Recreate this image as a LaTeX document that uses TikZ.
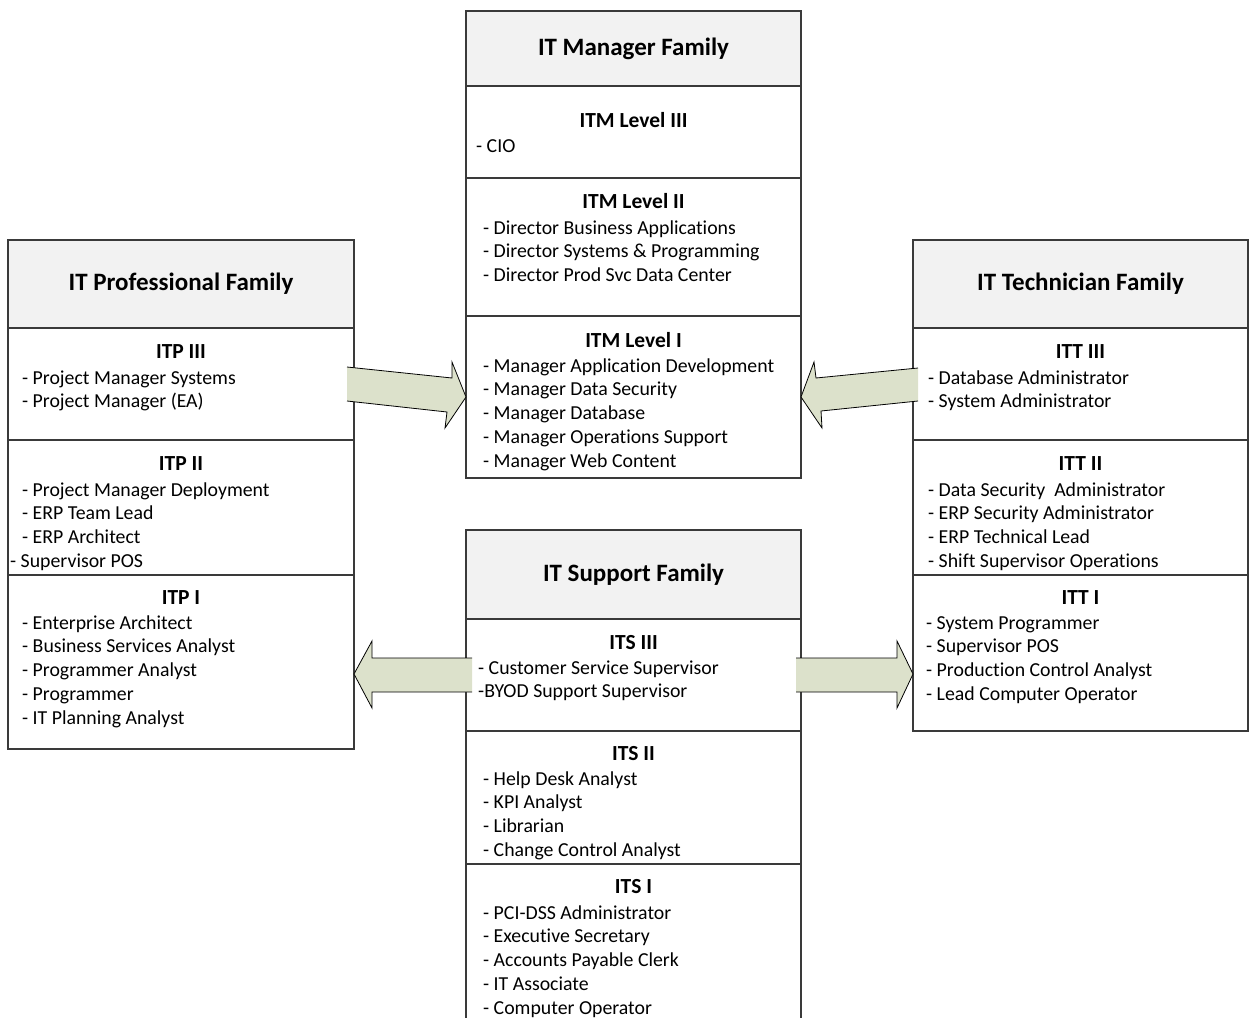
\documentclass[tikz,border=0pt]{standalone}
\usepackage{fontspec}
\setmainfont{Carlito}[Ligatures=NoCommon]
\usetikzlibrary{fit}
\definecolor{hdr}{HTML}{F2F2F2}
\definecolor{arrfill}{HTML}{DCE1CB}
\definecolor{edge}{HTML}{3A3A3A}
\tikzset{
  sec/.style={draw=edge, line width=1.2pt, inner sep=0pt},
  head/.style={sec, fill=hdr},
  fam/.style={font=\fontsize{25}{30}\selectfont\bfseries},
  lvl/.style={font=\fontsize{21.5}{26}\selectfont\bfseries, inner sep=0pt},
  item/.style={font=\fontsize{19.8}{24}\selectfont, inner sep=0pt, anchor=base west},
  blockfill/.style={fill=arrfill, draw=none},
  blockline/.style={draw=black, line width=0.8pt, line join=miter}
}
\newcommand{\itemlist}[4]{% prefix, x, y0, list
  \foreach \t [count=\i] in {#4} {
    \node[item] (#1-\i) at (#2, #3+7+23.9*\i-23.9) {\t};
  }
}
\begin{document}
\begin{tikzpicture}[x=1pt,y=-1pt]
\useasboundingbox (0,0) rectangle (1249,1017);
\clip (0,0) rectangle (1249,1017);

% ---------- IT Manager Family ----------
\node[head, fit={(466,11)(801,86)}] (mgr) {};
\node[fam] (mgrT) at (mgr.center) {IT Manager Family};
\node[sec, fit={(466,86)(801,178)}] (itm3) {};
\node[sec, fit={(466,178)(801,316)}] (itm2) {};
\node[sec, fit={(466,316)(801,478)}] (itm1) {};
\node[lvl] (itm3T) at (633.5,120) {ITM Level III};
\itemlist{itm3i}{476}{145}{{- CIO}}
\node[lvl] (itm2T) at (633.5,201) {ITM Level II};
\itemlist{itm2i}{483}{227}{{- Director Business Applications},{- Director Systems \& Programming},{- Director Prod Svc Data Center}}
\node[lvl] (itm1T) at (633.5,340) {ITM Level I};
\itemlist{itm1i}{483}{365}{{- Manager Application Development},{- Manager Data Security},{- Manager Database},{- Manager Operations Support},{- Manager Web Content}}

% ---------- IT Professional Family ----------
\node[head, fit={(8,240)(354,328)}] (pro) {};
\node[fam] (proT) at (pro.center) {IT Professional Family};
\node[sec, fit={(8,328)(354,440)}] (itp3) {};
\node[sec, fit={(8,440)(354,575)}] (itp2) {};
\node[sec, fit={(8,575)(354,749)}] (itp1) {};
\node[lvl] (itp3T) at (181,352) {ITP III};
\itemlist{itp3i}{22}{377}{{- Project Manager Systems},{- Project Manager (EA)}}
\node[lvl] (itp2T) at (181,464) {ITP II};
\itemlist{itp2i}{22}{489}{{- Project Manager Deployment},{- ERP Team Lead},{- ERP Architect}}
\node[item] (itp2i-4) at (10,567) {- Supervisor POS};
\node[lvl] (itp1T) at (181,598) {ITP I};
\itemlist{itp1i}{22}{622}{{- Enterprise Architect},{- Business Services Analyst},{- Programmer Analyst},{- Programmer},{- IT Planning Analyst}}

% ---------- IT Technician Family ----------
\node[head, fit={(913,240)(1248,328)}] (tec) {};
\node[fam] (tecT) at (tec.center) {IT Technician Family};
\node[sec, fit={(913,328)(1248,440)}] (itt3) {};
\node[sec, fit={(913,440)(1248,575)}] (itt2) {};
\node[sec, fit={(913,575)(1248,731)}] (itt1) {};
\node[lvl] (itt3T) at (1080.5,352) {ITT III};
\itemlist{itt3i}{928}{377}{{- Database Administrator},{- System Administrator}}
\node[lvl] (itt2T) at (1080.5,464) {ITT II};
\itemlist{itt2i}{928}{489}{{- Data Security\ \ Administrator},{- ERP Security Administrator},{- ERP Technical Lead},{- Shift Supervisor Operations}}
\node[lvl] (itt1T) at (1080.5,598) {ITT I};
\itemlist{itt1i}{926}{622}{{- System Programmer},{- Supervisor POS},{- Production Control Analyst},{- Lead Computer Operator}}

% ---------- IT Support Family ----------
\node[head, fit={(466,530)(801,619)}] (sup) {};
\node[fam] (supT) at (sup.center) {IT Support Family};
\node[sec, fit={(466,619)(801,731)}] (its3) {};
\node[sec, fit={(466,731)(801,864)}] (its2) {};
\node[sec, fit={(466,864)(801,1040)}] (its1) {};
\node[lvl] (its3T) at (633.5,643) {ITS III};
\itemlist{its3i}{478}{667}{{- Customer Service Supervisor},{-BYOD Support Supervisor}}
\node[lvl] (its2T) at (633.5,754) {ITS II};
\itemlist{its2i}{483}{778}{{- Help Desk Analyst},{- KPI Analyst},{- Librarian},{- Change Control Analyst}}
\node[lvl] (its1T) at (633.5,887) {ITS I};
\itemlist{its1i}{483}{912}{{- PCI-DSS Administrator},{- Executive Secretary},{- Accounts Payable Clerk},{- IT Associate},{- Computer Operator}}

% ---------- Block arrows ----------
% Professional -> Manager
\fill[blockfill] (347,367) -- (452,378) -- (452,362) -- (466,397) -- (445,428) -- (447,412) -- (347,401) -- cycle;
\draw[blockline] (347,367) -- (452,378) -- (452,362) -- (466,397) -- (445,428) -- (447,412) -- (347,401);
% Technician -> Manager
\fill[blockfill] (918,368) -- (816,378) -- (814,362) -- (801,397) -- (822,428) -- (821,411) -- (918,401) -- cycle;
\draw[blockline] (918,368) -- (816,378) -- (814,362) -- (801,397) -- (822,428) -- (821,411) -- (918,401);
% Support -> Professional
\fill[blockfill] (472,658) -- (372,658) -- (372,641) -- (354,674) -- (372,708) -- (372,692) -- (472,692) -- cycle;
\draw[blockline] (472,658) -- (372,658) -- (372,641) -- (354,674) -- (372,708) -- (372,692) -- (472,692);
% Support -> Technician
\fill[blockfill] (796,658) -- (897,658) -- (897,641) -- (913,674) -- (897,708) -- (897,692) -- (796,692) -- cycle;
\draw[blockline] (796,658) -- (897,658) -- (897,641) -- (913,674) -- (897,708) -- (897,692) -- (796,692);
\end{tikzpicture}
\end{document}
